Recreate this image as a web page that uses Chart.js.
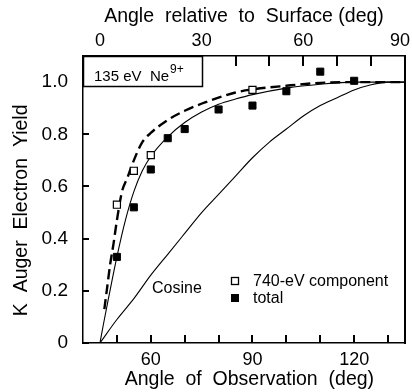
<!DOCTYPE html>
<html><head><meta charset="utf-8">
<script src="https://cdn.jsdelivr.net/npm/chart.js@4/dist/chart.umd.min.js"></script>
<style>html,body{margin:0;padding:0;background:#fff}canvas{display:block}</style>
</head><body><canvas id="c" width="412" height="392" style="width:412px;height:392px"></canvas>
<script>
// ---- data ----
const openAngles   = [50, 55, 60, 90];
const openYield    = [0.53, 0.66, 0.72, 0.97];
const totalAngles  = [50, 55, 60, 65, 70, 80, 90, 100, 110, 120];
const totalYield   = [0.33, 0.52, 0.665, 0.785, 0.82, 0.895, 0.91, 0.965, 1.04, 1.005];
const solidAngles  = [45, 46, 47.5, 50, 52.5, 55, 57.5, 60, 65, 70, 75, 80, 85, 90, 100, 110, 120, 135];
const solidYield   = [0, 0.07, 0.17, 0.33, 0.47, 0.58, 0.66, 0.715, 0.79, 0.845, 0.885, 0.915, 0.935, 0.952, 0.977, 0.992, 1.0, 1.0];
const dashedAngles = [46.3, 47, 48, 49, 50, 51.5, 53, 55, 57.5, 60, 65, 70, 76, 85, 90, 100, 110, 120, 135];
const dashedYield  = [0.13, 0.2, 0.3, 0.38, 0.47, 0.58, 0.63, 0.70, 0.77, 0.805, 0.855, 0.89, 0.922, 0.96, 0.972, 0.986, 0.997, 1.0, 1.0];
const cosineAngles = [45, 50, 55, 60, 65, 70, 75, 80, 85, 90, 95, 100, 105, 110, 115, 120, 125, 130, 135];
const cosineYield  = [0, 0.09, 0.17, 0.26, 0.34, 0.42, 0.5, 0.57, 0.64, 0.71, 0.77, 0.82, 0.87, 0.91, 0.94, 0.97, 0.99, 1.0, 1.0];
const bottomTicks  = [50, 60, 70, 80, 90, 100, 110, 120, 130];
const bottomLabels = [60, 90, 120];
const topTicks     = [0, 10, 20, 30, 40, 50, 60, 70, 80, 90];
const topLabels    = [0, 30, 60, 90];
const yTicks       = [0, 0.2, 0.4, 0.6, 0.8, 1.0];
const yLabels      = ['0', '0.2', '0.4', '0.6', '0.8', '1.0'];

const pts = (xs, ys) => xs.map((x, i) => ({x: x, y: ys[i]}));
const FONT = '"Liberation Sans", Arial, Helvetica, sans-serif';

const overlay = {
  id: 'overlay',
  afterDraw(chart) {
    const ctx = chart.ctx, a = chart.chartArea;
    const sx = chart.scales.x, st = chart.scales.x2, sy = chart.scales.y;
    const L = Math.round(a.left), R = Math.round(a.right), T = Math.round(a.top), B = Math.round(a.bottom);
    ctx.save();
    ctx.globalAlpha = 1;
    ctx.globalCompositeOperation = 'source-over';
    ctx.fillStyle = 'rgb(0,0,0)';
    // right frame edge
    ctx.fillRect(R - 1, T, 2, B - T + 1);
    // inward tick marks
    bottomTicks.forEach(v => { const p = Math.round(sx.getPixelForValue(v)); ctx.fillRect(p - 1, B - 8, 2, 8); });
    topTicks.forEach(v => { const p = Math.round(st.getPixelForValue(v)); ctx.fillRect(p - 1, T, 2, 10); });
    yTicks.forEach(v => { const p = Math.round(sy.getPixelForValue(v)); ctx.fillRect(L, p - 1, 6, 2); });
    // label box
    const bw = Math.round(st.getPixelForValue(30)) - L, bh = Math.round(sy.getPixelForValue(0.985)) - T;
    ctx.fillStyle = '#fff';
    ctx.fillRect(L, T, bw, bh);
    ctx.strokeStyle = '#000';
    ctx.lineWidth = 1.5;
    ctx.strokeRect(L + 0.5, T + 0.5, bw, bh);
    ctx.fillStyle = '#000';
    ctx.textBaseline = 'alphabetic';
    ctx.font = '15px ' + FONT;
    const tx = L + 11, ty = T + 25;
    ctx.fillText('135 eV  Ne', tx, ty);
    const w = ctx.measureText('135 eV  Ne').width;
    ctx.font = '12px ' + FONT;
    ctx.fillText('9+', tx + w + 1, ty - 8);
    // cosine label
    ctx.font = '16px ' + FONT;
    ctx.textBaseline = 'middle';
    ctx.fillText('Cosine', 152, 289);
    // legend
    ctx.fillText('740-eV component', 253, 282);
    ctx.fillText('total', 253, 299);
    ctx.lineWidth = 1.3;
    ctx.strokeRect(231.5, 277.5, 7, 7);
    ctx.fillRect(231, 294, 8, 8);
    ctx.restore();
  }
};

const curve = { showLine: true, borderColor: '#000', pointRadius: 0, cubicInterpolationMode: 'monotone', fill: false };

new Chart(document.getElementById('c'), {
  type: 'scatter',
  data: {
    datasets: [
      { data: pts(openAngles, openYield), pointStyle: 'rect', pointRadius: 5, pointBackgroundColor: '#fff', pointBorderColor: '#000', pointBorderWidth: 1.2, showLine: false },
      { data: pts(totalAngles, totalYield), pointStyle: 'rect', pointRadius: 5, pointBackgroundColor: '#000', pointBorderColor: '#000', pointBorderWidth: 1, showLine: false },
      Object.assign({ data: pts(dashedAngles, dashedYield), borderWidth: 2.4, borderDash: [10, 5] }, curve),
      Object.assign({ data: pts(solidAngles, solidYield), borderWidth: 1.1 }, curve),
      Object.assign({ data: pts(cosineAngles, cosineYield), borderWidth: 1.1 }, curve)
    ]
  },
  options: {
    responsive: false, maintainAspectRatio: false, animation: false, devicePixelRatio: 1,
    layout: { padding: { left: 0, right: 7, top: 0, bottom: 0 } },
    plugins: { legend: { display: false }, tooltip: { enabled: false } },
    scales: {
      x: {
        type: 'linear', position: 'bottom', min: 40, max: 135,
        afterBuildTicks: s => { s.ticks = bottomTicks.map(v => ({value: v})); },
        afterFit: s => { s.height = 49; s.paddingLeft = 0; s.paddingRight = 0; },
        grid: { display: false }, border: { display: true, color: '#000', width: 1.5 },
        ticks: { autoSkip: false, maxRotation: 0, padding: 0, color: '#000', font: { family: FONT, size: 18, lineHeight: 1 },
                 callback: v => bottomLabels.includes(v) ? String(v) : '' },
        title: { display: true, text: '  Angle  of  Observation  (deg)', color: '#000', font: { family: FONT, size: 19.5, lineHeight: 1 }, padding: { top: 0, bottom: 3 } }
      },
      x2: {
        type: 'linear', position: 'top', min: -5, max: 90,
        afterBuildTicks: s => { s.ticks = topTicks.map(v => ({value: v})); },
        afterFit: s => { s.height = 56; s.paddingLeft = 0; s.paddingRight = 0; },
        grid: { display: false }, border: { display: true, color: '#000', width: 1.5 },
        ticks: { autoSkip: false, maxRotation: 0, padding: -2, color: '#000', font: { family: FONT, size: 18, lineHeight: 1 },
                 callback: v => topLabels.includes(v) ? (v === 90 ? '90  ' : String(v)) : '' },
        title: { display: true, text: 'Angle  relative  to  Surface (deg)', color: '#000', font: { family: FONT, size: 19.5, lineHeight: 1 }, padding: { top: 7, bottom: 0 } }
      },
      y: {
        type: 'linear', position: 'left', min: 0, max: 1.1,
        afterBuildTicks: s => { s.ticks = yTicks.map(v => ({value: v})); },
        afterFit: s => { s.width = 83; s.paddingTop = 0; s.paddingBottom = 0; },
        grid: { display: false }, border: { display: true, color: '#000', width: 1.5 },
        ticks: { autoSkip: false, padding: 7, color: '#000', font: { family: FONT, size: 19, lineHeight: 1 },
                 callback: v => { const i = yTicks.indexOf(v); return i >= 0 ? yLabels[i] : ''; } },
        title: { display: true, text: 'K  Auger  Electron  Yield    ', color: '#000', font: { family: FONT, size: 19.5, lineHeight: 1 }, padding: { top: 12, bottom: 0 } }
      }
    }
  },
  plugins: [overlay]
});
</script>
</body></html>
